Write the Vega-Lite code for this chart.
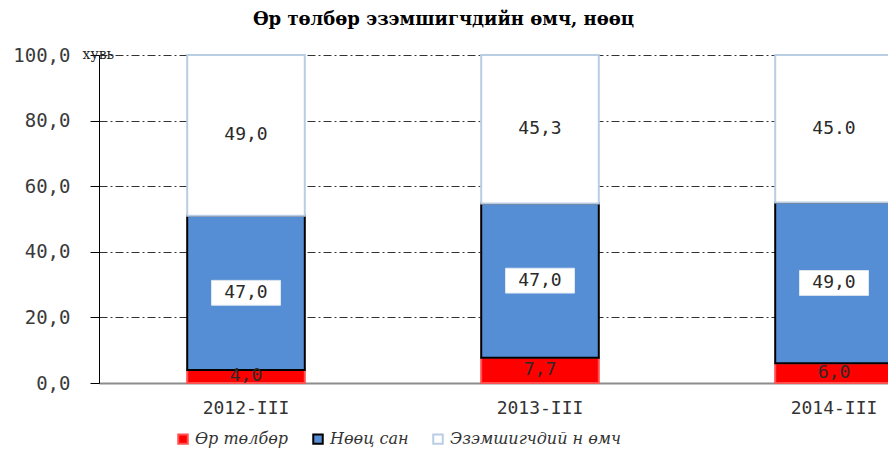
{
  "$schema": "https://vega.github.io/schema/vega-lite/v6.json",
  "autosize": "none",
  "width": 789,
  "height": 328,
  "padding": {"left": 99, "top": 55, "right": 0, "bottom": 69},
  "background": "white",
  "title": {
    "text": "Өр төлбөр эзэмшигчдийн өмч, нөөц",
    "font": "DejaVu Serif",
    "fontSize": 18,
    "fontWeight": "bold",
    "color": "#000000",
    "anchor": "middle",
    "dx": -50,
    "offset": 17
  },
  "data": {
    "values": [
      {"period": "2012-III", "series": "Өр төлбөр", "value": 4.0, "order": 1, "label": "4,0"},
      {"period": "2012-III", "series": "Нөөц сан", "value": 47.0, "order": 2, "label": "47,0"},
      {"period": "2012-III", "series": "Эзэмшигчдий н өмч", "value": 49.0, "order": 3, "label": "49,0"},
      {"period": "2013-III", "series": "Өр төлбөр", "value": 7.7, "order": 1, "label": "7,7"},
      {"period": "2013-III", "series": "Нөөц сан", "value": 47.0, "order": 2, "label": "47,0"},
      {"period": "2013-III", "series": "Эзэмшигчдий н өмч", "value": 45.3, "order": 3, "label": "45,3"},
      {"period": "2014-III", "series": "Өр төлбөр", "value": 6.0, "order": 1, "label": "6,0"},
      {"period": "2014-III", "series": "Нөөц сан", "value": 49.0, "order": 2, "label": "49,0"},
      {"period": "2014-III", "series": "Эзэмшигчдий н өмч", "value": 45.0, "order": 3, "label": "45.0"}
    ]
  },
  "transform": [
    {"stack": "value", "groupby": ["period"], "sort": [{"field": "order", "order": "ascending"}], "as": ["v0", "v1"]},
    {"calculate": "(datum.v0 + datum.v1) / 2", "as": "mid"}
  ],
  "encoding": {
    "x": {
      "field": "period",
      "type": "nominal",
      "sort": null,
      "scale": {"range": [0, 882], "paddingInner": 0.6, "paddingOuter": 0.3},
      "axis": {
        "title": null,
        "labelAngle": 0,
        "ticks": false,
        "domainColor": "#8c8c8c",
        "domainWidth": 2,
        "labelFont": "DejaVu Sans Mono",
        "labelFontSize": 18,
        "labelColor": "#333333",
        "labelPadding": 16
      }
    }
  },
  "layer": [
    {
      "mark": {"type": "bar", "strokeWidth": 2},
      "encoding": {
        "y": {
          "field": "v0",
          "type": "quantitative",
          "scale": {"domain": [0, 100]},
          "axis": {
            "values": [0, 20, 40, 60, 80, 100],
            "labelExpr": "replace(format(datum.value, '.1f'), '.', ',')",
            "labelFont": "DejaVu Sans Mono",
            "labelFontSize": 19,
            "labelColor": "#3a3a3a",
            "labelPadding": 20,
            "tickSize": 9,
            "tickColor": "#000000",
            "domainColor": "#000000",
            "grid": true,
            "gridColor": "#333333",
            "gridDash": [8, 3, 2, 3],
            "gridWidth": 1,
            "title": "хувь",
            "titleAngle": 0,
            "titleX": -17,
            "titleY": -1,
            "titleAlign": "left",
            "titleBaseline": "middle",
            "titleFont": "DejaVu Serif",
            "titleFontSize": 14,
            "titleFontWeight": "normal",
            "titleColor": "#222222"
          }
        },
        "y2": {"field": "v1"},
        "fill": {
          "field": "series",
          "type": "nominal",
          "sort": null,
          "scale": {
            "domain": ["Өр төлбөр", "Нөөц сан", "Эзэмшигчдий н өмч"],
            "range": ["#ff0000", "#558ed5", "#ffffff"]
          },
          "legend": {
            "title": null,
            "orient": "none",
            "legendX": 76,
            "legendY": 376,
            "direction": "horizontal",
            "symbolType": "square",
            "symbolSize": 90,
            "symbolStrokeWidth": 2,
            "labelFont": "DejaVu Serif",
            "labelFontStyle": "italic",
            "labelFontSize": 16,
            "labelColor": "#333333",
            "labelOffset": 4,
            "labelLimit": 400,
            "columnPadding": 20
          }
        },
        "stroke": {
          "field": "series",
          "type": "nominal",
          "sort": null,
          "scale": {
            "domain": ["Өр төлбөр", "Нөөц сан", "Эзэмшигчдий н өмч"],
            "range": ["#ff5050", "#000000", "#b9cde5"]
          },
          "legend": {
            "title": null,
            "orient": "none",
            "legendX": 76,
            "legendY": 376,
            "direction": "horizontal",
            "symbolType": "square",
            "symbolSize": 90,
            "symbolStrokeWidth": 2,
            "labelFont": "DejaVu Serif",
            "labelFontStyle": "italic",
            "labelFontSize": 16,
            "labelColor": "#333333",
            "labelOffset": 4,
            "labelLimit": 400,
            "columnPadding": 20
          }
        }
      }
    },
    {
      "transform": [{"filter": "datum.series === 'Нөөц сан'"}],
      "mark": {
        "type": "point",
        "shape": "M -1 -0.36 L 1 -0.36 L 1 0.36 L -1 0.36 Z",
        "size": 4761,
        "filled": true,
        "fill": "#ffffff",
        "stroke": "#dfe6f0",
        "strokeWidth": 1,
        "opacity": 1
      },
      "encoding": {
        "y": {"field": "mid", "type": "quantitative"}
      }
    },
    {
      "mark": {
        "type": "text",
        "font": "DejaVu Sans Mono",
        "fontSize": 18,
        "color": "#2a2a2a",
        "baseline": "middle",
        "align": "center"
      },
      "encoding": {
        "y": {"field": "mid", "type": "quantitative"},
        "text": {"field": "label", "type": "nominal"}
      }
    }
  ],
  "config": {
    "view": {"stroke": null},
    "axis": {"labelFontWeight": "normal"}
  }
}
